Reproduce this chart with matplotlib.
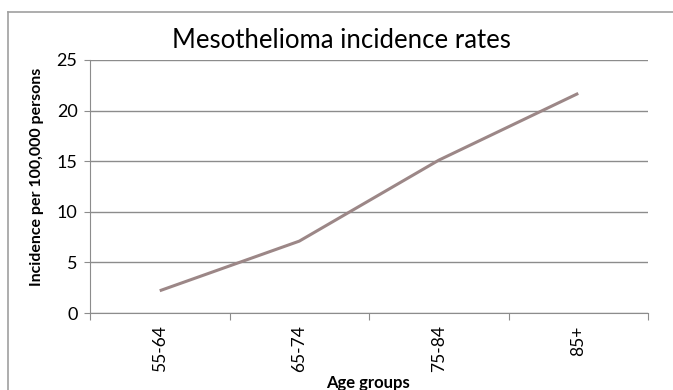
import matplotlib.pyplot as plt
from matplotlib.lines import Line2D

plt.rcParams['font.family'] = ['Lato', 'DejaVu Sans']

age_groups = ['55-64', '65-74', '75-84', '85+']
incidence = [2.2, 7.1, 15.1, 21.7]
y_ticks = [0, 5, 10, 15, 20, 25]

W, H = 673, 390
fig = plt.figure(figsize=(W / 100, H / 100), dpi=100)
ax = fig.add_axes([90 / W, (H - 313) / H, 558 / W, 253 / H])

x = list(range(len(age_groups)))
ax.plot(x, incidence, color='#9c8787', linewidth=2.2, solid_capstyle='butt')

ax.set_xlim(-0.5, len(age_groups) - 0.5)
ax.set_ylim(0, 25)
ax.set_yticks(y_ticks)
ax.yaxis.grid(True, color='#8c8c8c', linewidth=1.0)
ax.set_axisbelow(True)

# category ticks sit between groups, labels centered under each group
ax.set_xticks([i - 0.5 for i in range(len(age_groups) + 1)])
ax.set_xticklabels([])
ax.set_xticks(x, minor=True)
ax.set_xticklabels(age_groups, minor=True, rotation=90, fontsize=12.5)
ax.tick_params(axis='x', which='minor', length=0, pad=9)
ax.tick_params(axis='x', which='major', length=5, color='#8c8c8c', direction='out')
ax.tick_params(axis='y', length=4, color='#8c8c8c', labelsize=13, pad=5)

for s in ['top', 'right']:
    ax.spines[s].set_visible(False)
for s in ['left', 'bottom']:
    ax.spines[s].set_color('#8c8c8c')

fig.text(341 / W, 1 - 40 / H, 'Mesothelioma incidence rates', fontsize=18.5,
         ha='center', va='center')
fig.text(368 / W, 1 - 383 / H, 'Age groups', fontsize=12, fontweight='bold',
         ha='center', va='center')
fig.text(37 / W, 1 - 177 / H, 'Incidence per 100,000 persons', fontsize=11.5,
         fontweight='bold', rotation=90, ha='center', va='center')

# chart area frame (left and top edges)
fig.add_artist(Line2D([8 / W, 8 / W], [0, 1 - 12 / H], transform=fig.transFigure,
                      color='#a0a0a0', linewidth=1.2))
fig.add_artist(Line2D([8 / W, 1], [1 - 12 / H, 1 - 12 / H], transform=fig.transFigure,
                      color='#a0a0a0', linewidth=1.2))

fig.savefig('out.png', dpi=100)
